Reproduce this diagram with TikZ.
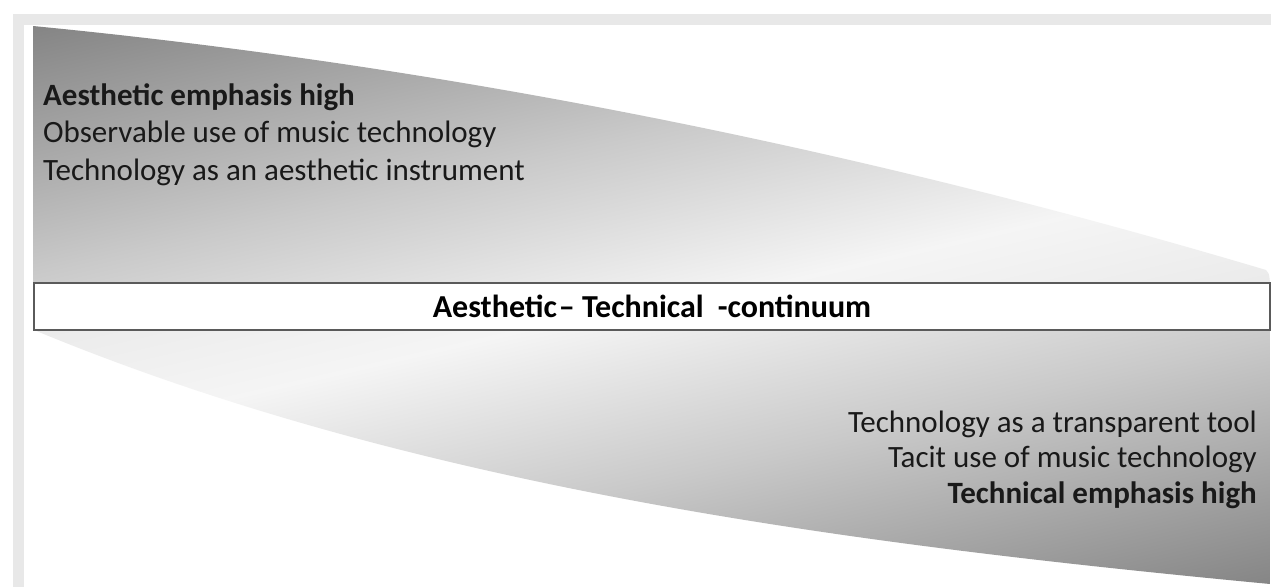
\documentclass[tikz,border=0pt]{standalone}
\usepackage{fontspec}
\setmainfont{Carlito}
\definecolor{framegray}{HTML}{E8E8E8}
\definecolor{barline}{HTML}{5A5A5A}
\pgfdeclareverticalshading{wedgeshade}{100bp}{
    color(0bp)=(black!8); color(40.5bp)=(black!8); color(44.5bp)=(black!4);
    color(50.8bp)=(black!21); color(59.5bp)=(black!48); color(100bp)=(black!50)}

\begin{document}
\begin{tikzpicture}[x=1pt,y=-1pt,
        txt/.style={font=\fontsize{31}{37}\selectfont,text=black!90,inner sep=0pt},
        bar/.style={draw=barline,line width=1.4pt,fill=white,minimum width=1236pt,minimum height=47pt,
            text height=21pt,text depth=0pt,font=\fontsize{32}{38}\selectfont\bfseries}]
        \useasboundingbox (0,0) rectangle (1271,587);
        \fill[framegray] (13,14) rectangle (1271,587);
        \fill[white] (24,25) rectangle (1271,587);
        \begin{scope}
            \clip (33,26) .. controls (445,66) and (856,148) .. (1266,270) .. controls (1269,273) .. (1270,283) -- (33,283) -- cycle;
            \shade[shading=wedgeshade,shading angle=13] (-50,-545) rectangle (1350,855);
        \end{scope}
        \begin{scope}
            \clip (34,330) .. controls (420,490) and (860,545) .. (1270,584) -- (1270,330) -- cycle;
            \shade[shading=wedgeshade,shading angle=193] (-47,-242) rectangle (1353,1158);
        \end{scope}
        \node[bar] (continuum) at (652,306.5) {Aesthetic\kern2pt--\ Technical\hspace{14pt}-continuum};
        \node[txt,anchor=base west] (aeshigh) at (43,105) {\bfseries Aesthetic emphasis high};
        \node[txt,anchor=base west] (observable) at (43,142) {Observable use of music technology};
        \node[txt,anchor=base west] (instrument) at (43,180) {Technology as an aesthetic instrument};
        \node[txt,anchor=base east] (transparent) at (1257,432) {Technology as a transparent tool};
        \node[txt,anchor=base east] (tacit) at (1257,467) {Tacit use of music technology};
        \node[txt,anchor=base east] (techhigh) at (1257,503) {\bfseries Technical emphasis high};
    \end{tikzpicture}
\end{document}
